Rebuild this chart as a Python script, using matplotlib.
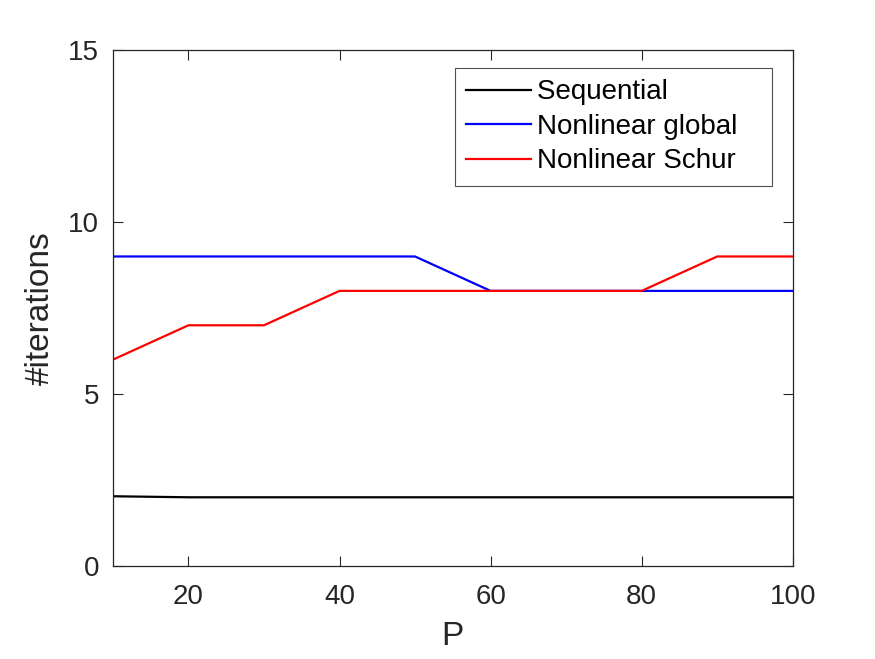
import numpy as np
import matplotlib
matplotlib.use("Agg")
import matplotlib.pyplot as plt

plt.rcParams['font.family'] = ['Liberation Sans', 'DejaVu Sans']

P = [10, 20, 30, 40, 50, 60, 70, 80, 90, 100]
sequential = [2.03, 2.0, 2.0, 2.0, 2.0, 2.0, 2.0, 2.0, 2.0, 2.0]
nl_global = [9, 9, 9, 9, 9, 8, 8, 8, 8, 8]
nl_schur = [6, 7, 7, 8, 8, 8, 8, 8, 9, 9]
names = ['Sequential', 'Nonlinear global', 'Nonlinear Schur']

axcol = (0.15, 0.15, 0.15)

fig = plt.figure(figsize=(8.75, 6.59), dpi=100)
ax = fig.add_axes([0.129, 0.141, 0.777, 0.783])

l1, = ax.plot(P, sequential, color='k', lw=1.6, label=names[0])
l2, = ax.plot(P, nl_global, color='b', lw=1.6, label=names[1])
l3, = ax.plot(P, nl_schur, color='r', lw=1.6, label=names[2])

ax.set_xlim(10, 100)
ax.set_ylim(0, 15)
ax.set_xticks([20, 40, 60, 80, 100])
ax.set_yticks([0, 5, 10, 15])
ax.tick_params(direction='in', length=7, width=0.8, colors=axcol,
               labelsize=20, top=True, right=True)
ax.tick_params(axis='x', labeltop=False, pad=13)
ax.tick_params(axis='y', labelright=False, pad=10)
for s in ax.spines.values():
    s.set_color(axcol)
    s.set_linewidth(0.9)

ax.set_xlabel('P', fontsize=24, color=axcol, labelpad=8)
ax.set_ylabel('#iterations', fontsize=24, color=axcol, labelpad=9)

# MATLAB legends leave extra room right of the text
leg = ax.legend([l1, l2, l3], [n + '   ' for n in names],
                loc='upper right', bbox_to_anchor=(0.969, 0.965), fontsize=20,
                frameon=True, fancybox=False, handlelength=2.35,
                handletextpad=0.2, borderpad=0.4, labelspacing=0.31,
                borderaxespad=0)
leg.get_frame().set_edgecolor(axcol)
leg.get_frame().set_linewidth(0.8)

fig.savefig('out.png', dpi=100)
